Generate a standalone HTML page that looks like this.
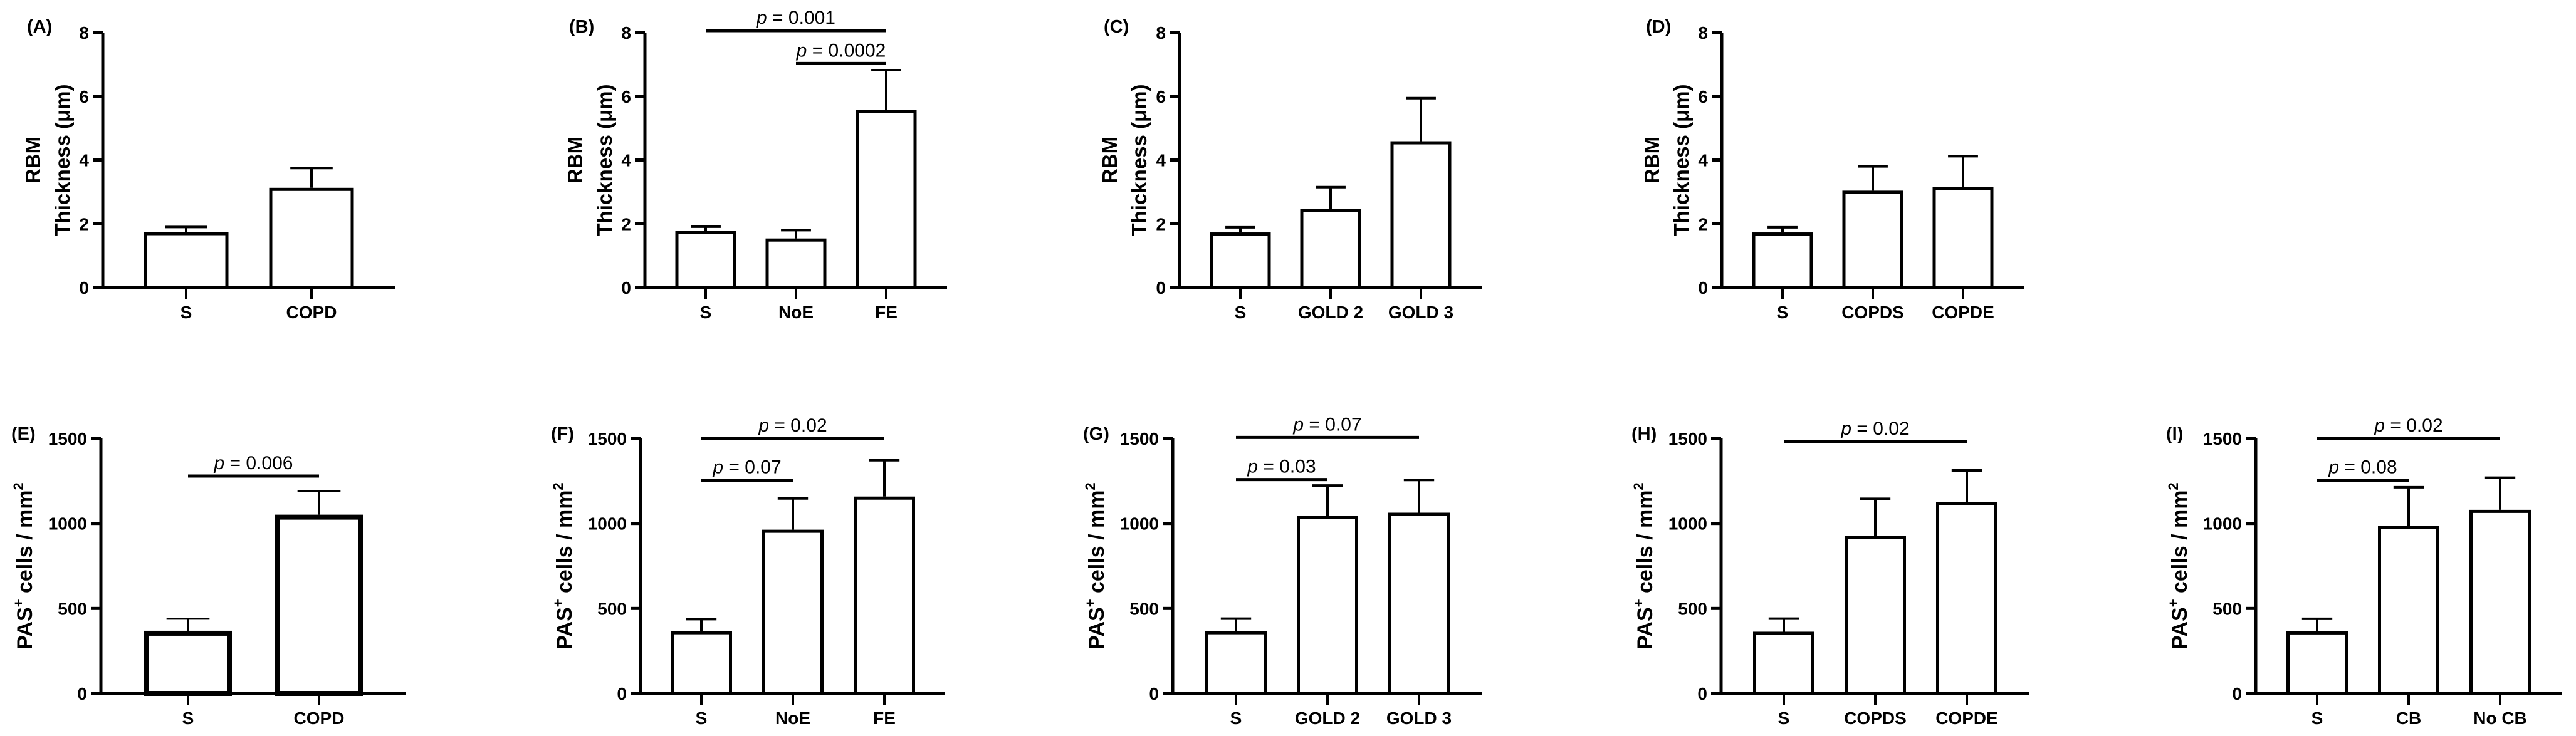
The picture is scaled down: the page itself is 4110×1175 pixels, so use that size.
<!DOCTYPE html>
<html><head><meta charset="utf-8">
<style>
html,body{margin:0;padding:0;background:#fff;}
svg{display:block;}
text{font-family:"Liberation Sans",Arial,sans-serif;fill:#000;}
.b{font-weight:bold;}
</style></head>
<body>
<svg id="fig" width="4110" height="1175" viewBox="0 0 4110 1175" xmlns="http://www.w3.org/2000/svg">
<rect width="4110" height="1175" fill="#fff"/>
</svg>
<script>
// ---- data ----
const catsA = ["S","COPD"];
const meanA = [1.69, 3.08];
const errA  = [0.21, 0.67];
const catsB = ["S","NoE","FE"];
const meanB = [1.72, 1.49, 5.52];
const errB  = [0.19, 0.31, 1.30];
const catsC = ["S","GOLD 2","GOLD 3"];
const meanC = [1.68, 2.41, 4.54];
const errC  = [0.21, 0.74, 1.40];
const catsD = ["S","COPDS","COPDE"];
const meanD = [1.68, 2.99, 3.10];
const errD  = [0.21, 0.81, 1.02];
const catsE = ["S","COPD"];
const meanE = [354, 1037];
const errE  = [85, 152];
const catsF = ["S","NoE","FE"];
const meanF = [357, 954, 1149];
const errF  = [80, 193, 223];
const catsG = ["S","GOLD 2","GOLD 3"];
const meanG = [357, 1035, 1054];
const errG  = [83, 188, 202];
const catsH = ["S","COPDS","COPDE"];
const meanH = [354, 919, 1115];
const errH  = [86, 226, 197];
const catsI = ["S","CB","No CB"];
const meanI = [356, 977, 1071];
const errI  = [83, 236, 198];
const topTicks = [0,2,4,6,8];
const botTicks = [0,500,1000,1500];
// significance annotations: [fromIndex, toIndex, lineValue, text]
const sigB = [[0,2,8.06,"0.001"],[1,2,7.03,"0.0002"]];
const sigE = [[0,1,1279,"0.006"]];
const sigF = [[0,2,1500,"0.02"],[0,1,1255,"0.07"]];
const sigG = [[0,2,1506,"0.07"],[0,1,1258,"0.03"]];
const sigH = [[0,2,1481,"0.02"]];
const sigI = [[0,2,1500,"0.02"],[0,1,1255,"0.08"]];

const NS="http://www.w3.org/2000/svg";
const svg=document.getElementById('fig');
function mk(tag,attrs,parent){const e=document.createElementNS(NS,tag);for(const k in attrs)e.setAttribute(k,attrs[k]);(parent||svg).appendChild(e);return e;}

function panel(o){
  const g=mk('g',{});
  
  
  const y0=o.y0, yTop=o.yTop, vmax=o.vmax;
  const yv=v=>y0-(v/vmax)*(y0-yTop);
  const cx=i=>o.axis+o.off+i*o.sp;
  const xEnd=cx(o.cats.length-1)+o.off;
  o.mean.forEach((m,i)=>{
    const r=mk('rect',{x:cx(i)-o.bw/2,y:yv(m),width:o.bw,height:y0-yv(m),fill:'#fff',stroke:'#000','stroke-width':o.bs},g);
    
    
    const e=mk('path',{d:`M${cx(i)} ${yv(m)-o.bs/2} V${yv(m+o.err[i])} M${cx(i)-o.bw*0.26} ${yv(m+o.err[i])} H${cx(i)+o.bw*0.26}`,stroke:'#000','stroke-width':o.es,fill:'none'},g);
    
    
  });
  const ax=mk('path',{d:`M${o.axis} ${yTop} V${y0} M${o.axis-16} ${y0} H${xEnd}`,stroke:'#000','stroke-width':5,fill:'none'},g);
  
  
  o.ticks.forEach(t=>{
    mk('path',{d:`M${o.axis-16} ${yv(t)} H${o.axis}`,stroke:'#000','stroke-width':5},g);
    const tl=mk('text',{x:o.axis-22,y:yv(t)+10,'text-anchor':'end','font-size':28,class:'b'},g);
    tl.textContent=t;
    
    
  });
  o.cats.forEach((c,i)=>{
    mk('path',{d:`M${cx(i)} ${y0} V${y0+18}`,stroke:'#000','stroke-width':4},g);
    const t=mk('text',{x:cx(i),y:y0+49,'text-anchor':'middle','font-size':28,class:'b'},g);
    t.textContent=c;
    
    
  });
  const L=mk('text',{x:o.axis+o.lblOff,y:o.lblY,'font-size':29,class:'b'},g);
  L.textContent='('+o.id+')';
  
  
  const mid=(y0+yTop)/2;
  if(o.kind==='top'){
    const t1=mk('text',{transform:`translate(${o.axis-100},${mid}) rotate(-90)`,'text-anchor':'middle','font-size':33,class:'b'},g);
    t1.textContent='RBM';
    
    
    const t2=mk('text',{transform:`translate(${o.axis-53},${mid}) rotate(-90)`,'text-anchor':'middle','font-size':33,class:'b'},g);
    t2.textContent='Thickness (μm)';
    
    
  } else {
    const t=mk('text',{transform:`translate(${o.axis-110},${mid}) rotate(-90)`,'text-anchor':'middle','font-size':34,class:'b'},g);
    t.innerHTML='PAS<tspan font-size="22" dy="-14">+</tspan><tspan dy="14"> cells / mm</tspan><tspan font-size="22" dy="-14">2</tspan>';
    
    
  }
  (o.sig||[]).forEach(s=>{
    const ly=yv(s[2]);
    const ln=mk('path',{d:`M${cx(s[0])} ${ly} H${cx(s[1])}`,stroke:'#000','stroke-width':5},g);
    
    
    const t=mk('text',{x:(cx(s[0])+cx(s[1]))/2,y:ly-11,'text-anchor':'middle','font-size':30},g);
    t.innerHTML='<tspan font-style="italic">p</tspan> = '+s[3];
    
    
  });
}
const T={kind:'top',y0:459,yTop:52,vmax:8,ticks:topTicks,lblOff:-121,lblY:52,bs:5,es:4};
const Bm={kind:'bot',y0:1107,yTop:700,vmax:1500,ticks:botTicks,lblOff:-143,lblY:702,bs:5,es:4};
panel(Object.assign({},T,{id:'A',axis:164,off:133,sp:200,bw:130,cats:catsA,mean:meanA,err:errA}));
panel(Object.assign({},T,{id:'B',axis:1029,off:97,sp:144,bw:92,cats:catsB,mean:meanB,err:errB,sig:sigB}));
panel(Object.assign({},T,{id:'C',axis:1882,off:97,sp:144,bw:92,cats:catsC,mean:meanC,err:errC}));
panel(Object.assign({},T,{id:'D',axis:2747,off:97,sp:144,bw:92,cats:catsD,mean:meanD,err:errD}));
panel(Object.assign({},Bm,{id:'E',axis:161,off:139,sp:209,bw:132,bs:8,es:3,cats:catsE,mean:meanE,err:errE,sig:sigE}));
panel(Object.assign({},Bm,{id:'F',axis:1022,off:97,sp:146,bw:93,cats:catsF,mean:meanF,err:errF,sig:sigF}));
panel(Object.assign({},Bm,{id:'G',axis:1871,off:101,sp:146,bw:93,cats:catsG,mean:meanG,err:errG,sig:sigG}));
panel(Object.assign({},Bm,{id:'H',axis:2746,off:100,sp:146,bw:93,cats:catsH,mean:meanH,err:errH,sig:sigH}));
panel(Object.assign({},Bm,{id:'I',axis:3599,off:98,sp:146,bw:93,cats:catsI,mean:meanI,err:errI,sig:sigI}));
</script>
</body></html>
